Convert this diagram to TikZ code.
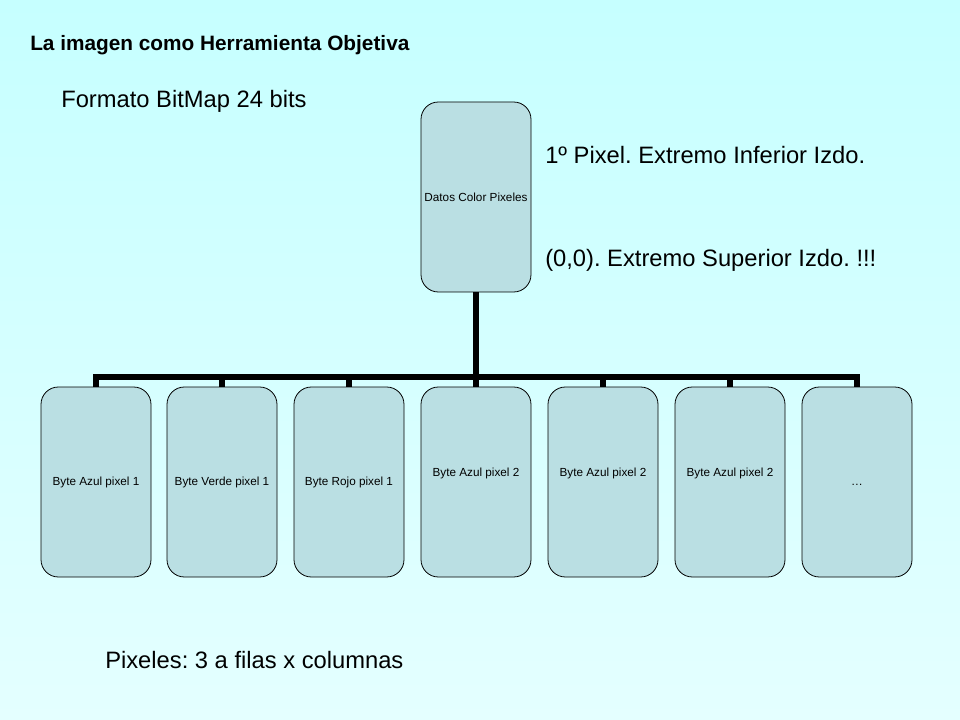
\documentclass[tikz,border=0pt]{standalone}
\usepackage{fontspec}
\setmainfont{Liberation Sans}
\usetikzlibrary{positioning}
\frenchspacing
\definecolor{fondoarriba}{RGB}{198,255,255}
\definecolor{fondoabajo}{RGB}{228,255,255}
\definecolor{cajafill}{RGB}{186,223,227}

\begin{document}
\begin{tikzpicture}[x=0.75pt,y=-0.75pt,
		caja/.style={draw, fill=cajafill, line width=0.6pt, rounded corners=13pt,
			minimum width=82.5pt, minimum height=142.5pt, inner sep=0pt},
		cajatxt/.style={font=\fontsize{8.8}{10}\selectfont, inner sep=0pt},
		rama/.style={line width=5.2pt},
		texto/.style={anchor=west, inner sep=0pt, font=\fontsize{17.8}{22}\selectfont}]
		% fondo
		\shade[top color=fondoarriba, bottom color=fondoabajo] (0,0) rectangle (960,720);
		\useasboundingbox (0,0) rectangle (960,720);

		% textos
		\node[texto, font=\bfseries\fontsize{15.6}{18}\selectfont] (titulo) at (30,45) {La imagen como Herramienta Objetiva};
		\node[texto] (formato) at (61,101) {Formato BitMap 24 bits};
		\node[texto] (primero) at (545,155) {1º Pixel. Extremo Inferior Izdo.};
		\node[texto] (origen) at (545,260) {(0,0). Extremo Superior Izdo. !!!};
		\node[texto] (pixeles) at (105,660) {Pixeles: 3 a filas x columnas};

		% caja de arriba
		\node[caja] (datos) at (476,197) {};
		\node[cajatxt] (datostxt) at (datos.center) {Datos Color Pixeles};
		\coordinate (barra) at (476,377);
		\draw[rama] (datos.south) -- (barra);

		% cajas de abajo
		\foreach \i/\x/\txt/\dy in {1/96/Byte Azul pixel 1/0, 2/222/Byte Verde pixel 1/0,
			3/349/Byte Rojo pixel 1/0, 4/476/Byte Azul pixel 2/6.75, 5/603/Byte Azul pixel 2/6.75,
			6/730/Byte Azul pixel 2/6.75, 7/857/\dots/-2.25}{
			\node[caja] (b\i) at (\x,482) {};
			\node[cajatxt] (t\i) at ([yshift=\dy pt]b\i.center) {\txt};
			\draw[rama] (b\i.north) -- (b\i.north |- barra) -- (barra);
		}
	\end{tikzpicture}
\end{document}
